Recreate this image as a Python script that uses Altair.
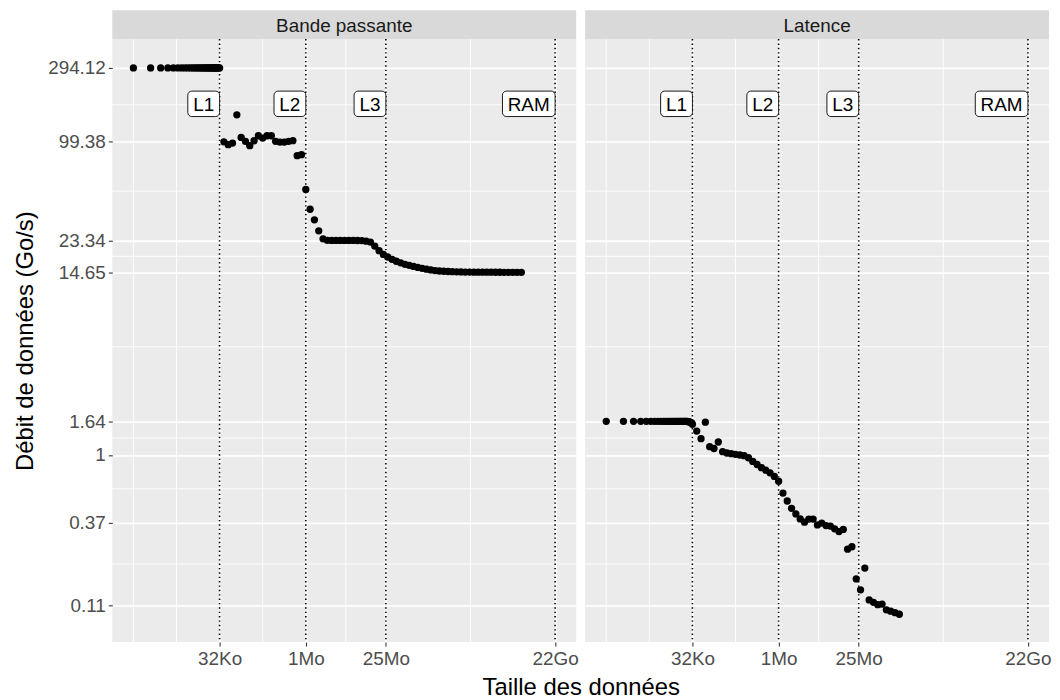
import math
import altair as alt
import pandas as pd

FONT = "Liberation Sans"

panel_names = ["Bande passante", "Latence"]

# Data sizes in Ko (1 Ko = 1024 bytes)
bw_size_ko = [
    1, 2, 3, 4, 5, 6, 7, 8, 9, 10, 11, 12, 13, 14, 15, 16,
    17, 18, 19, 20, 21, 22, 23, 24, 25, 26, 27, 28, 29, 30, 31, 32,
    38.05, 45.25, 53.82, 64, 76.11, 90.51, 107.63, 128,
    152.22, 181.02, 215.27, 256, 304.44, 362.04, 430.54, 512,
    608.87, 724.08, 861.08, 1024, 1217.75, 1448.15, 1722.16, 2048,
    2435.5, 2896.31, 3444.31, 4096, 4870.99, 5792.62, 6888.62, 8192,
    9741.98, 11585.24, 13777.25, 16384, 19483.97, 23170.48, 27554.49, 32768,
    38967.93, 46340.95, 55108.98, 65536, 77935.87, 92681.9, 110217.97, 131072,
    155871.73, 185363.8, 220435.93, 262144, 311743.47, 370727.6, 440871.87, 524288,
    623486.94, 741455.2, 881743.73, 1048576, 1246973.88, 1482910.4, 1763487.47, 2097152,
    2493947.77, 2965820.8, 3526974.94, 4194304, 4987895.53, 5931641.6,
]
bw_rate = [
    294.12, 294.12, 294.12, 294.12, 294.12, 294.12, 294.12, 294.12,
    294.12, 294.12, 294.12, 294.12, 294.12, 294.12, 294.12, 294.12,
    294.12, 294.12, 294.12, 294.12, 294.12, 294.12, 294.12, 294.12,
    294.12, 294.12, 294.12, 294.12, 294.12, 294.12, 294.12, 294.12,
    99.38, 95.3, 97.5, 147.6, 106.0, 100.0, 93.8, 100.9,
    108.6, 104.9, 108.6, 108.6, 100.0, 99.0, 99.0, 100.0,
    101.0, 81.1, 82.3, 49.4, 36.9, 31.6, 26.9, 23.9,
    23.4, 23.36, 23.34, 23.34, 23.34, 23.34, 23.34, 23.32,
    23.3, 23.1, 22.8, 21.5, 20.1, 19.0, 18.3, 17.7,
    17.2, 16.8, 16.45, 16.2, 15.95, 15.7, 15.5, 15.3,
    15.15, 15.0, 14.9, 14.85, 14.8, 14.75, 14.72, 14.7,
    14.68, 14.67, 14.66, 14.65, 14.65, 14.64, 14.64, 14.63,
    14.63, 14.62, 14.62, 14.62, 14.61, 14.61,
]

lat_size_ko = [
    1, 2, 3, 4, 5, 6, 7, 8, 9, 10, 11, 12, 13, 14, 15, 16,
    17, 18, 19, 20, 21, 22, 23, 24, 25, 26, 27, 28, 29, 30, 31, 32,
    38.05, 45.25, 53.82, 64, 76.11, 90.51, 107.63, 128,
    152.22, 181.02, 215.27, 256, 304.44, 362.04, 430.54, 512,
    608.87, 724.08, 861.08, 1024, 1217.75, 1448.15, 1722.16, 2048,
    2435.5, 2896.31, 3444.31, 4096, 4870.99, 5792.62, 6888.62, 8192,
    9741.98, 11585.24, 13777.25, 16384, 19483.97, 23170.48, 27554.49, 32768,
    38967.93, 46340.95, 55108.98, 65536, 77935.87, 92681.9, 110217.97, 131072,
]
lat_rate = [
    1.64, 1.64, 1.64, 1.64, 1.64, 1.64, 1.64, 1.64,
    1.64, 1.64, 1.64, 1.64, 1.64, 1.64, 1.64, 1.64,
    1.64, 1.64, 1.64, 1.64, 1.64, 1.64, 1.64, 1.64,
    1.64, 1.64, 1.63, 1.63, 1.62, 1.61, 1.60, 1.57,
    1.42, 1.27, 1.62, 1.13, 1.10, 1.21, 1.05, 1.03,
    1.02, 1.01, 1.0, 0.99, 0.96, 0.91, 0.87, 0.83,
    0.80, 0.77, 0.73, 0.68, 0.572, 0.509, 0.457, 0.421,
    0.391, 0.373, 0.39, 0.39, 0.358, 0.368, 0.355, 0.352,
    0.338, 0.325, 0.335, 0.251, 0.26, 0.162, 0.138, 0.19,
    0.119, 0.115, 0.111, 0.112, 0.103, 0.101, 0.0988, 0.0965,
]

cache_size_ko = [32, 1024, 25600, 23068672]
cache_labels = ["L1", "L2", "L3", "RAM"]
cache_label_rate = 173.5

y_breaks = [0.11, 0.37, 1, 1.64, 14.65, 23.34, 99.38, 294.12]
y_break_labels = ["0.11", "0.37", "1", "1.64", "14.65", "23.34", "99.38", "294.12"]
x_break_labels = ["32Ko", "1Mo", "25Mo", "22Go"]

# ---- layout / scales -------------------------------------------------------
W, H = 467, 607
STRIP = 29
x_breaks = [int(v * 1024) for v in cache_size_ko]

lx_lo, lx_hi = math.log10(1024), math.log10(x_breaks[-1])
xpad = (lx_hi - lx_lo) * 0.05
X_DOMAIN = [10 ** (lx_lo - xpad), 10 ** (lx_hi + xpad)]
Y_DOMAIN = [10 ** -1.193, 10 ** 2.652]


def minor_breaks(b, lo, hi):
    lb = [math.log10(v) for v in b]
    bd = lb[1] - lb[0]
    if lo < lb[0]:
        lb = [lb[0] - bd] + lb
    if hi > lb[-1]:
        lb = lb + [lb[-1] + bd]
    out = []
    for i in range(len(lb) - 1):
        out += [lb[i], (lb[i] + lb[i + 1]) / 2]
    out.append(lb[-1])
    majors = {round(math.log10(v), 8) for v in b}
    return [10 ** v for v in out if lo <= v <= hi and round(v, 8) not in majors]


x_minor = minor_breaks(x_breaks, math.log10(X_DOMAIN[0]), math.log10(X_DOMAIN[1]))
y_minor = minor_breaks(y_breaks, math.log10(Y_DOMAIN[0]), math.log10(Y_DOMAIN[1]))

x_expr = " : ".join(f"datum.value == {v} ? '{l}'" for v, l in zip(x_breaks, x_break_labels)) + " : ''"
y_expr = " : ".join(f"datum.value == {v} ? '{l}'" for v, l in zip(y_breaks, y_break_labels)) + " : ''"


def make_panel(name, sizes_ko, rates, first):
    xs = alt.Scale(type="log", domain=X_DOMAIN, nice=False)
    ys = alt.Scale(type="log", domain=Y_DOMAIN, nice=False)
    if first:
        x_axis = alt.Axis(values=x_breaks, labelExpr=x_expr, title="Taille des données",
                          titleX=W + 4.5, titleAlign="center", titlePadding=7)
        y_axis = alt.Axis(values=y_breaks, labelExpr=y_expr, title="Débit de données (Go/s)",
                          titlePadding=10)
    else:
        x_axis = alt.Axis(values=x_breaks, labelExpr=x_expr, title="")
        y_axis = alt.Axis(values=y_breaks, labels=False, ticks=False, title="")

    def X(f):
        return alt.X(f, scale=xs, axis=x_axis)

    def Y(f):
        return alt.Y(f, scale=ys, axis=y_axis)

    df = pd.DataFrame({"size": [s * 1024 for s in sizes_ko], "rate": rates})
    lab = pd.DataFrame({"size": x_breaks, "label": cache_labels,
                        "rate": [cache_label_rate] * len(cache_labels)})
    xm = pd.DataFrame({"v": x_minor})
    ym = pd.DataFrame({"v": y_minor})
    strip_df = pd.DataFrame({"panel": [name]})

    minor_x = alt.Chart(xm).mark_rule(color="white", strokeWidth=0.9).encode(x=X("v:Q"))
    minor_y = alt.Chart(ym).mark_rule(color="white", strokeWidth=0.9).encode(y=Y("v:Q"))
    vlines = alt.Chart(lab).mark_rule(color="black", strokeWidth=1.6, strokeDash=[1.4, 3.0]).encode(
        x=X("size:Q"))
    pts = alt.Chart(df).mark_circle(size=54, color="black", opacity=1).encode(
        x=X("size:Q"), y=Y("rate:Q"))
    box_l = alt.Chart(lab).transform_filter(alt.datum.label != "RAM").mark_rect(
        fill="white", stroke="black", strokeWidth=0.9, cornerRadius=4,
        xOffset=-32, x2Offset=0, yOffset=-12.8, y2Offset=12.8).encode(
        x=X("size:Q"), x2="size:Q", y=Y("rate:Q"), y2="rate:Q")
    box_r = alt.Chart(lab).transform_filter(alt.datum.label == "RAM").mark_rect(
        fill="white", stroke="black", strokeWidth=0.9, cornerRadius=4,
        xOffset=-53, x2Offset=0, yOffset=-12.8, y2Offset=12.8).encode(
        x=X("size:Q"), x2="size:Q", y=Y("rate:Q"), y2="rate:Q")
    txt = alt.Chart(lab).mark_text(align="right", baseline="middle", dx=-5.5, dy=1,
                                   fontSize=19, font=FONT, color="black").encode(
        x=X("size:Q"), y=Y("rate:Q"), text="label:N")
    strip_rect = alt.Chart(strip_df).mark_rect(color="#D9D9D9").encode(
        x=alt.value(0), x2=alt.value(W), y=alt.value(-STRIP), y2=alt.value(0))
    strip_txt = alt.Chart(strip_df).mark_text(fontSize=19, font=FONT, color="#1A1A1A",
                                              baseline="middle").encode(
        x=alt.value(W / 2), y=alt.value(-STRIP / 2 + 1), text="panel:N")

    return alt.layer(minor_x, minor_y, vlines, pts, box_l, box_r, txt,
                     strip_rect, strip_txt).properties(width=W, height=H)


left = make_panel(panel_names[0], bw_size_ko, bw_rate, True)
right = make_panel(panel_names[1], lat_size_ko, lat_rate, False)

chart = alt.hconcat(left, right, spacing=9, bounds="flush").properties(
    padding={"left": 5, "top": 0, "right": 0, "bottom": 0}
).configure_axis(
    domain=False, grid=True, gridColor="white", gridWidth=1.8,
    tickColor="#333333", tickWidth=1.1, tickSize=4,
    labelColor="#4D4D4D", labelFontSize=19, labelFont=FONT,
    titleFont=FONT, titleFontSize=24, titleFontWeight="normal", titleColor="black",
).configure_axisX(labelPadding=4).configure_axisY(labelPadding=3).configure_view(
    fill="#EBEBEB", strokeWidth=0)

chart.save("out.html", embed_options={"renderer": "svg", "actions": False})
